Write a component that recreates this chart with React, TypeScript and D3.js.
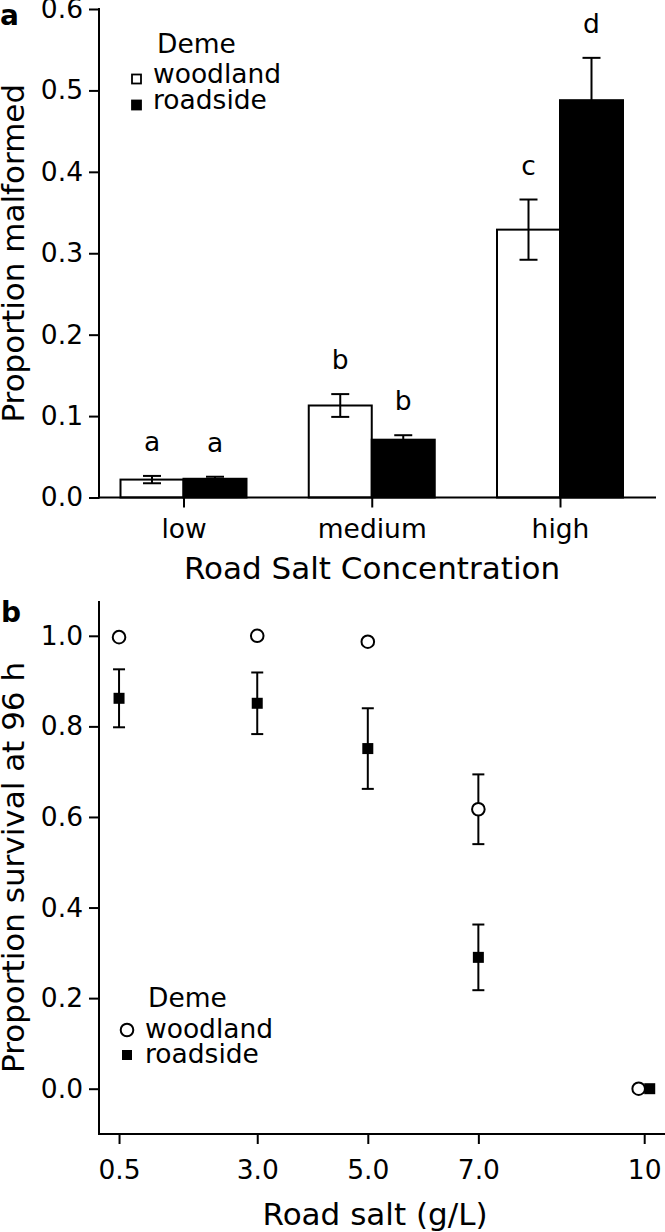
import React, { useEffect, useRef } from 'react';
import * as d3 from 'd3';

// panel a: malformation by road salt concentration
const concLevels = ['low', 'medium', 'high'];
const malformedWoodland = [0.022, 0.113, 0.329];
const malformedWoodlandSE = [0.0045, 0.014, 0.037];
const malformedRoadside = [0.023, 0.071, 0.488];
const malformedRoadsideSE = [0.0025, 0.0055, 0.052];
const woodlandLetters = ['a', 'b', 'c'];
const roadsideLetters = ['a', 'b', 'd'];
const malformedTicks = [0, 0.1, 0.2, 0.3, 0.4, 0.5, 0.6];

// panel b: survival at 96 h by road salt (g/L)
const saltTicks = [0.5, 3.0, 5.0, 7.0, 10];
const saltTickLabels = ['0.5', '3.0', '5.0', '7.0', '10'];
const woodlandSalt = [0.5, 3.0, 5.0, 7.0, 9.9];
const survivalWoodland = [0.997, 1.0, 0.987, 0.617, 0.0];
const survivalWoodlandSE = [0, 0, 0, 0.077, 0];
const roadsideSalt = [0.5, 3.0, 5.0, 7.0, 10.1];
const survivalRoadside = [0.862, 0.851, 0.751, 0.29, 0.0];
const survivalRoadsideSE = [0.064, 0.068, 0.089, 0.0725, 0];
const survivalTicks = [0, 0.2, 0.4, 0.6, 0.8, 1.0];

const demes = ['woodland', 'roadside'];

const FONT = 'DejaVu Sans';
const TICK_FS = 26.5;
const TITLE_FS = 31;

function App() {
  const svgRef = useRef(null);

  useEffect(() => {
    const svg = d3.select(svgRef.current);
    svg.selectAll('*').remove();

    const drawPanelA = () => {
      const g = svg.append('g');
      const x = d3.scalePoint().domain(concLevels).range([183.5, 560]);
      const y = d3.scaleLinear().domain([0, 0.6]).range([497.5, 9]);
      const barW = 63;

      const rows = concLevels.map((c, i) => ({
        c,
        w: malformedWoodland[i],
        wse: malformedWoodlandSE[i],
        r: malformedRoadside[i],
        rse: malformedRoadsideSE[i],
        wl: woodlandLetters[i],
        rl: roadsideLetters[i],
      }));

      // bars
      rows.forEach((d) => {
        const cx = x(d.c);
        g.append('rect')
          .attr('x', cx - barW)
          .attr('y', y(d.w))
          .attr('width', barW)
          .attr('height', y(0) - y(d.w))
          .attr('fill', '#fff')
          .attr('stroke', '#000')
          .attr('stroke-width', 2);
        g.append('rect')
          .attr('x', cx)
          .attr('y', y(d.r))
          .attr('width', barW)
          .attr('height', y(0) - y(d.r))
          .attr('fill', '#000')
          .attr('stroke', '#000')
          .attr('stroke-width', 2);

        const errs = [
          { mx: cx - barW / 2, v: d.w, se: d.wse, lab: d.wl },
          { mx: cx + barW / 2, v: d.r, se: d.rse, lab: d.rl },
        ];
        errs.forEach((e) => {
          const top = y(e.v + e.se);
          const bot = y(e.v - e.se);
          g.append('line').attr('x1', e.mx).attr('x2', e.mx).attr('y1', top).attr('y2', bot)
            .attr('stroke', '#000').attr('stroke-width', 2);
          [top, bot].forEach((yy) => {
            g.append('line').attr('x1', e.mx - 9).attr('x2', e.mx + 9).attr('y1', yy).attr('y2', yy)
              .attr('stroke', '#000').attr('stroke-width', 2);
          });
          g.append('text')
            .attr('x', e.mx)
            .attr('y', top - 25)
            .attr('text-anchor', 'middle')
            .attr('font-size', TICK_FS)
            .text(e.lab);
        });
      });

      // axes
      const yAxis = d3.axisLeft(y).tickValues(malformedTicks).tickSize(10).tickPadding(6)
        .tickSizeOuter(0).tickFormat(d3.format('.1f'));
      const ya = g.append('g').attr('transform', 'translate(99,0)').call(yAxis);
      ya.select('.domain').remove();
      ya.selectAll('.tick line').attr('stroke-width', 2);
      ya.selectAll('text').attr('font-size', TICK_FS).attr('font-family', FONT);
      g.append('line').attr('x1', 99).attr('x2', 99).attr('y1', y(0.6) - 1).attr('y2', y(0) + 1)
        .attr('stroke', '#000').attr('stroke-width', 2);

      const xAxis = d3.axisBottom(x).tickSize(10).tickPadding(11.5).tickSizeOuter(0);
      const xa = g.append('g').attr('transform', `translate(0,${y(0)})`).call(xAxis);
      xa.select('.domain').remove();
      xa.selectAll('.tick line').attr('stroke-width', 2);
      xa.selectAll('text').attr('font-size', TICK_FS).attr('font-family', FONT);
      g.append('line').attr('x1', 98).attr('x2', 656).attr('y1', y(0)).attr('y2', y(0))
        .attr('stroke', '#000').attr('stroke-width', 2);

      g.append('text').attr('x', 372).attr('y', 579).attr('text-anchor', 'middle')
        .attr('font-size', TITLE_FS).text('Road Salt Concentration');
      g.append('text').attr('transform', `translate(24,${(y(0) + y(0.6)) / 2}) rotate(-90)`)
        .attr('text-anchor', 'middle').attr('font-size', TITLE_FS).text('Proportion malformed');
      g.append('text').attr('x', 0).attr('y', 25).attr('font-size', 28).attr('font-weight', 'bold').text('a');

      // legend
      const lg = g.append('g');
      lg.append('text').attr('x', 157).attr('y', 53).attr('font-size', TICK_FS).text('Deme');
      const rowBase = [83, 109];
      demes.forEach((dm, i) => {
        const cy = rowBase[i] - 4;
        lg.append('rect').attr('x', 132).attr('y', cy - 4.5).attr('width', 9).attr('height', 9)
          .attr('fill', i === 0 ? '#fff' : '#000').attr('stroke', '#000').attr('stroke-width', 1.8);
        lg.append('text').attr('x', 153).attr('y', rowBase[i]).attr('font-size', TICK_FS).text(dm);
      });
    };

    const drawPanelB = () => {
      const g = svg.append('g');
      const x = d3.scaleLinear().domain([0, 10]).range([91.4, 644.2]);
      const y = d3.scaleLinear().domain([0, 1]).range([1088.7, 635.8]);
      const yBottom = y(-0.1);
      const yTop = y(1.077);

      // error bars
      const roadside = roadsideSalt.map((s, i) => ({ s, v: survivalRoadside[i], se: survivalRoadsideSE[i] }));
      const woodland = woodlandSalt.map((s, i) => ({ s, v: survivalWoodland[i], se: survivalWoodlandSE[i] }));
      [...woodland, ...roadside].filter((d) => d.se > 0).forEach((d) => {
        const mx = x(d.s);
        const top = y(d.v + d.se);
        const bot = y(d.v - d.se);
        g.append('line').attr('x1', mx).attr('x2', mx).attr('y1', top).attr('y2', bot)
          .attr('stroke', '#000').attr('stroke-width', 2);
        [top, bot].forEach((yy) => {
          g.append('line').attr('x1', mx - 6).attr('x2', mx + 6).attr('y1', yy).attr('y2', yy)
            .attr('stroke', '#000').attr('stroke-width', 2);
        });
      });

      const sq = 11;
      g.selectAll('.sq').data(roadside).enter().append('rect')
        .attr('x', (d) => x(d.s) - sq / 2).attr('y', (d) => y(d.v) - sq / 2)
        .attr('width', sq).attr('height', sq).attr('fill', '#000');
      g.selectAll('.ci').data(woodland).enter().append('circle')
        .attr('cx', (d) => x(d.s)).attr('cy', (d) => y(d.v)).attr('r', 6.3)
        .attr('fill', '#fff').attr('stroke', '#000').attr('stroke-width', 2);

      // axes
      const yAxis = d3.axisLeft(y).tickValues(survivalTicks).tickSize(10).tickPadding(6)
        .tickSizeOuter(0).tickFormat(d3.format('.1f'));
      const ya = g.append('g').attr('transform', 'translate(99,0)').call(yAxis);
      ya.select('.domain').remove();
      ya.selectAll('.tick line').attr('stroke-width', 2);
      ya.selectAll('text').attr('font-size', TICK_FS).attr('font-family', FONT);
      g.append('line').attr('x1', 99).attr('x2', 99).attr('y1', yTop).attr('y2', yBottom + 1)
        .attr('stroke', '#000').attr('stroke-width', 2);

      const xAxis = d3.axisBottom(x).tickValues(saltTicks).tickSize(10).tickPadding(16)
        .tickSizeOuter(0).tickFormat((d, i) => saltTickLabels[i]);
      const xa = g.append('g').attr('transform', `translate(0,${yBottom})`).call(xAxis);
      xa.select('.domain').remove();
      xa.selectAll('.tick line').attr('stroke-width', 2);
      xa.selectAll('text').attr('font-size', TICK_FS).attr('font-family', FONT);
      g.append('line').attr('x1', 98).attr('x2', 670).attr('y1', yBottom).attr('y2', yBottom)
        .attr('stroke', '#000').attr('stroke-width', 2);

      g.append('text').attr('x', 375).attr('y', 1225).attr('text-anchor', 'middle')
        .attr('font-size', TITLE_FS).text('Road salt (g/L)');
      g.append('text').attr('transform', `translate(24,${(yTop + yBottom) / 2}) rotate(-90)`)
        .attr('text-anchor', 'middle').attr('font-size', TITLE_FS).text('Proportion survival at 96 h');
      g.append('text').attr('x', 1).attr('y', 622).attr('font-size', 28).attr('font-weight', 'bold').text('b');

      // legend
      const lg = g.append('g');
      lg.append('text').attr('x', 148).attr('y', 1007).attr('font-size', TICK_FS).text('Deme');
      lg.append('circle').attr('cx', 127).attr('cy', 1030).attr('r', 6.3)
        .attr('fill', '#fff').attr('stroke', '#000').attr('stroke-width', 2);
      lg.append('text').attr('x', 145).attr('y', 1038).attr('font-size', TICK_FS).text(demes[0]);
      lg.append('rect').attr('x', 127 - 5).attr('y', 1055 - 5).attr('width', 10).attr('height', 10).attr('fill', '#000');
      lg.append('text').attr('x', 145).attr('y', 1063).attr('font-size', TICK_FS).text(demes[1]);
    };

    drawPanelA();
    drawPanelB();
  }, []);

  return (
    <svg
      ref={svgRef}
      width={665}
      height={1232}
      style={{ position: 'absolute', left: 0, top: 0, background: '#fff' }}
      fontFamily={FONT}
    />
  );
}

export default App;
